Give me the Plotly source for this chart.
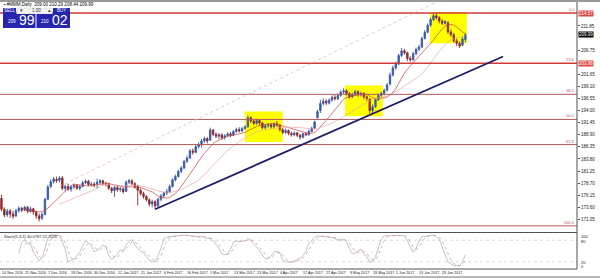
import plotly.graph_objects as go
import pandas as pd

symbol = "#MMM,Daily"

opens = [175.5,173.2,172.0,172.9,172.2,171.8,172.9,173.4,173.0,173.6,172.8,173.3,172.6,171.8,171.3,172.1,175.3,178.0,179.0,179.5,
         179.3,179.8,177.6,178.0,177.4,177.9,178.2,177.6,178.0,178.8,179.1,178.4,178.5,178.6,178.9,179.2,178.7,178.6,177.6,177.1,
         177.8,177.3,177.5,177.0,178.9,179.2,178.6,178.0,177.2,176.5,175.9,175.2,174.3,174.8,173.9,175.3,176.0,176.6,176.9,178.0,
         179.4,180.1,181.2,181.9,183.3,184.0,185.5,185.2,186.4,186.8,187.6,188.1,187.8,189.9,189.0,188.6,188.9,188.3,188.7,189.1,
         188.8,189.6,190.0,189.7,190.2,190.6,192.5,191.8,191.3,191.9,191.4,190.4,190.8,191.0,190.6,191.2,190.9,190.0,189.4,189.8,
         189.2,188.9,189.3,188.8,188.4,189.1,188.9,189.6,190.3,192.5,194.0,195.5,196.0,195.6,196.2,196.8,196.5,197.2,197.9,198.2,
         197.6,196.9,197.4,198.0,197.3,197.6,196.9,196.4,194.0,194.8,196.3,197.2,197.6,198.3,199.6,201.5,203.0,203.8,205.6,206.6,
         206.2,205.0,204.7,206.0,206.9,207.4,209.2,210.5,212.0,213.2,214.0,213.6,212.9,212.4,212.6,210.6,210.0,208.7,208.2,207.8,
         209.00]
highs = [176.2,173.6,173.3,173.2,172.8,173.3,173.8,173.7,173.9,173.9,173.8,173.5,172.9,172.3,172.5,175.6,178.3,179.5,180.0,180.1,
         180.2,180.2,178.4,178.6,178.2,178.6,178.5,178.3,179.2,179.5,179.4,178.9,178.9,179.6,179.5,179.4,179.0,178.8,177.9,178.1,
         178.2,177.9,177.8,179.3,179.6,179.5,178.9,178.4,177.6,176.9,176.2,175.5,175.2,175.1,175.6,176.4,176.9,177.5,178.4,179.7,
         180.5,181.5,182.3,183.6,184.5,185.9,186.0,186.8,187.3,188.0,188.5,188.4,190.4,190.1,189.4,189.3,189.2,189.0,189.4,189.5,
         189.9,190.4,190.5,190.6,190.9,193.0,192.8,192.2,192.3,192.1,191.6,191.2,191.4,191.3,191.5,191.8,191.1,190.3,190.2,190.0,
         189.5,189.6,189.5,189.0,189.3,189.5,190.0,190.6,191.9,194.2,196.3,196.6,196.4,196.6,197.2,197.3,197.6,198.3,198.7,198.5,
         197.9,197.8,198.4,198.3,198.0,197.9,197.2,196.6,195.3,196.6,197.6,198.0,198.6,199.8,202.0,203.5,204.3,206.0,207.2,207.0,
         206.4,205.5,206.4,207.3,207.9,209.6,211.0,212.4,213.6,214.5,214.57,213.9,213.3,213.1,212.8,211.1,210.4,209.2,208.6,209.5,
         210.29]
lows = [172.8,171.5,171.6,171.4,171.2,171.6,172.5,172.6,172.8,172.4,172.5,172.0,171.2,170.6,170.9,171.9,175.1,177.6,178.6,178.8,
        178.9,177.2,177.0,177.1,176.9,177.5,177.3,177.2,177.8,178.5,178.1,178.0,177.8,177.6,178.4,178.2,178.0,177.3,176.6,175.8,
        176.9,176.9,176.5,176.8,178.5,178.3,177.5,174.0,176.1,175.4,174.8,173.8,173.6,173.2,173.5,174.9,175.6,176.2,176.6,177.8,
        179.1,179.9,180.8,181.7,183.0,183.8,184.7,185.0,186.0,186.2,187.2,187.1,187.6,188.6,188.2,188.0,187.9,187.9,188.4,188.4,
        188.6,189.3,189.4,189.5,190.0,190.4,191.4,190.9,191.0,190.8,190.1,190.0,190.4,190.2,190.3,190.6,189.6,189.0,189.1,188.8,
        188.5,188.6,188.4,187.9,188.1,188.6,188.7,189.4,190.1,192.3,193.5,195.1,195.2,195.3,195.9,196.1,196.2,196.9,197.5,197.2,
        196.5,196.6,197.1,196.9,197.0,196.4,196.0,193.4,193.5,194.6,196.0,196.9,197.2,198.0,199.3,201.2,202.6,203.6,205.3,205.8,
        204.4,204.3,204.5,205.7,206.5,207.2,209.0,210.3,211.7,212.9,213.2,212.4,212.0,212.1,210.2,209.6,208.3,207.6,207.2,207.6,
        208.44]
closes = [173.2,172.0,172.8,172.2,171.7,172.9,173.4,173.0,173.6,172.8,173.3,172.6,171.8,171.2,172.1,175.3,177.9,179.0,179.6,179.2,
          179.8,177.6,178.0,177.4,177.9,178.2,177.6,178.0,178.8,179.1,178.4,178.5,178.3,178.9,179.2,178.7,178.6,177.6,177.1,177.8,
          177.3,177.5,176.9,178.9,179.2,178.6,177.9,177.2,176.5,175.9,175.2,174.3,174.8,173.9,175.3,176.0,176.6,176.9,178.0,179.4,
          180.1,181.2,181.9,183.3,184.0,185.5,185.2,186.4,186.8,187.6,188.1,187.6,189.9,189.0,188.6,188.9,188.3,188.7,189.1,188.8,
          189.6,190.0,189.7,190.2,190.6,192.5,191.8,191.3,191.9,191.4,190.4,190.8,191.0,190.6,191.2,190.9,190.0,189.4,189.8,189.2,
          188.9,189.3,188.8,188.4,189.1,188.9,189.6,190.3,191.6,193.8,195.5,196.0,195.6,196.2,196.8,196.5,197.2,197.9,198.2,197.6,
          196.9,197.4,198.0,197.3,197.6,196.9,196.6,194.0,194.8,196.3,197.2,197.6,198.3,199.4,201.5,203.0,203.8,205.6,206.6,206.2,
          205.0,204.7,206.0,206.9,207.4,209.2,210.5,212.0,213.2,214.0,213.6,212.9,212.4,212.8,210.6,210.0,208.7,208.2,207.6,209.1,
          209.99]

date_labels = ["14 Nov 2016", "25 Nov 2016", "7 Dec 2016", "19 Dec 2016", "30 Dec 2016", "12 Jan 2017",
               "25 Jan 2017", "6 Feb 2017", "16 Feb 2017", "1 Mar 2017", "13 Mar 2017", "23 Mar 2017",
               "4 Apr 2017", "17 Apr 2017", "27 Apr 2017", "9 May 2017", "19 May 2017", "1 Jun 2017",
               "13 Jun 2017", "23 Jun 2017"]
date_label_bar = [0, 8, 16, 24, 32, 40, 48, 56, 64, 72, 80, 88, 96, 104, 112, 120, 128, 136, 144, 152]

price_ticks = [171.05, 173.60, 176.15, 178.70, 181.25, 183.80, 186.35, 188.90, 191.45,
               194.00, 196.55, 199.10, 201.65, 206.75, 211.85, 216.95]

fib_levels = [0.0, 23.6, 38.2, 50.0, 61.8, 100.0]
fib_high = 214.57
fib_low = 169.70

trend_bars = [53, 173]
trend_prices = [173.2, 205.4]
thin_line_bars = [20, 150]
thin_line_prices = [178.0, 216.9]

box_bars = [[84, 97], [118.5, 131.5], [147.8, 160.5]]
box_prices = [[187.4, 193.8], [192.8, 199.3], [208.2, 214.8]]

stoch_levels = [20, 80]

# ---------------------------------------------------------------
W, H = 600, 278
def px(x):
    return x / W
def py(y):
    return 1 - y / H

n = len(closes)
bars = list(range(n))
df = pd.DataFrame({"o": opens, "h": highs, "l": lows, "c": closes})
ma_fast = df["c"].rolling(10).mean()
ma_slow = df["c"].rolling(21).mean()
ll = df["l"].rolling(5).min()
hh = df["h"].rolling(5).max()
k = (df["c"] - ll).rolling(3).sum() / (hh - ll).rolling(3).sum() * 100
d = k.rolling(3).mean()

XR = [-0.5, 198.5]
X_RIGHT = 577 / W
YMAIN = [168.4, 216.9]

fig = go.Figure()
fig.add_trace(go.Candlestick(
    x=bars, open=opens, high=highs, low=lows, close=closes,
    increasing=dict(line=dict(color="#3a5aa8", width=0.9), fillcolor="#3a5aa8"),
    decreasing=dict(line=dict(color="#8e2a2a", width=0.9), fillcolor="#8e2a2a"),
    whiskerwidth=0, xaxis="x", yaxis="y", showlegend=False, hoverinfo="skip"))
fig.add_trace(go.Scatter(x=bars, y=ma_fast, mode="lines", line=dict(color="#d43c3c", width=0.7),
                         xaxis="x", yaxis="y", showlegend=False, hoverinfo="skip"))
fig.add_trace(go.Scatter(x=bars, y=ma_slow, mode="lines", line=dict(color="#e8a8a8", width=0.7),
                         xaxis="x", yaxis="y", showlegend=False, hoverinfo="skip"))
fig.add_trace(go.Scatter(x=bars, y=k, mode="lines", line=dict(color="#b4b4b4", width=0.8),
                         xaxis="x2", yaxis="y2", showlegend=False, hoverinfo="skip"))
fig.add_trace(go.Scatter(x=bars, y=d, mode="lines", line=dict(color="#d49a9a", width=0.8, dash="dot"),
                         xaxis="x2", yaxis="y2", showlegend=False, hoverinfo="skip"))

shapes = []
for (b0, b1), (p0, p1) in zip(box_bars, box_prices):
    shapes.append(dict(type="rect", xref="x", yref="y", x0=b0, x1=b1, y0=p0, y1=p1,
                       fillcolor="#ffff00", line=dict(width=0), layer="below"))
fib_prices = [fib_high - (fib_high - fib_low) * lv / 100 for lv in fib_levels]
for lv, p in zip(fib_levels, fib_prices):
    strong = lv in (0.0, 23.6)
    shapes.append(dict(type="line", xref="paper", yref="y", x0=0, x1=X_RIGHT, y0=p, y1=p,
                       line=dict(color="#d23a3a" if strong else "#b45a5a", width=1.4 if strong else 1)))
shapes.append(dict(type="line", xref="x", yref="y", x0=thin_line_bars[0], x1=thin_line_bars[1],
                   y0=thin_line_prices[0], y1=thin_line_prices[1],
                   line=dict(color="#e6b4b4", width=0.8, dash="dot")))
shapes.append(dict(type="line", xref="x", yref="y", x0=trend_bars[0], x1=trend_bars[1],
                   y0=trend_prices[0], y1=trend_prices[1], line=dict(color="#1c1c6a", width=1.8)))
for lv in stoch_levels:
    shapes.append(dict(type="line", xref="paper", yref="y2", x0=0, x1=X_RIGHT, y0=lv, y1=lv,
                       line=dict(color="#c0c0c0", width=0.6, dash="dot")))
shapes += [
    dict(type="rect", xref="paper", yref="paper", x0=0, x1=1, y0=py(2), y1=1,
         fillcolor="#9a9a9a", line=dict(width=0)),
    dict(type="line", xref="paper", yref="paper", x0=X_RIGHT, x1=X_RIGHT, y0=py(269), y1=py(2),
         line=dict(color="#505050", width=1)),
    dict(type="line", xref="paper", yref="paper", x0=0, x1=X_RIGHT, y0=py(232.5), y1=py(232.5),
         line=dict(color="#505050", width=1)),
    dict(type="line", xref="paper", yref="paper", x0=0, x1=X_RIGHT, y0=py(269), y1=py(269),
         line=dict(color="#505050", width=1)),
    dict(type="line", xref="paper", yref="paper", x0=0, x1=1, y0=py(277), y1=py(277),
         line=dict(color="#a0a0a0", width=1.5)),
]
panel_blue = "#2626b0"
shapes += [
    dict(type="rect", xref="paper", yref="paper", x0=px(3), x1=px(16), y0=py(14), y1=py(8),
         fillcolor=panel_blue, line=dict(width=0)),
    dict(type="rect", xref="paper", yref="paper", x0=px(17), x1=px(52), y0=py(14), y1=py(8),
         fillcolor="#f4f4f4", line=dict(color="#c8c8c8", width=0.5)),
    dict(type="rect", xref="paper", yref="paper", x0=px(53), x1=px(70), y0=py(14), y1=py(8),
         fillcolor=panel_blue, line=dict(width=0)),
    dict(type="rect", xref="paper", yref="paper", x0=px(3), x1=px(35.5), y0=py(28), y1=py(14),
         fillcolor=panel_blue, line=dict(width=0)),
    dict(type="rect", xref="paper", yref="paper", x0=px(36.5), x1=px(70), y0=py(28), y1=py(14),
         fillcolor=panel_blue, line=dict(width=0)),
]

ann = []
fnt = "Liberation Sans"
def A(x, y, text, size=5, color="#000", xanchor="left", yanchor="middle", xref="paper", yref="paper", bg=None):
    a = dict(x=x, y=y, xref=xref, yref=yref, text=text, showarrow=False, xanchor=xanchor,
             yanchor=yanchor, font=dict(family=fnt, size=size, color=color), borderpad=0)
    if bg:
        a["bgcolor"] = bg
    ann.append(a)

last = n - 1
A(px(3), py(4.5), "▪ %s  %.2f %.2f %.2f %.2f" % (symbol, opens[last], highs[last], lows[last], closes[last]), size=4.5)
A(px(9.5), py(11), "SELL", size=4.5, color="#fff", xanchor="center")
A(px(61.5), py(11), "BUY", size=4.5, color="#fff", xanchor="center")
A(px(21), py(11), "▾", size=4.5, color="#333", xanchor="center")
A(px(36), py(11), "1.00", size=4.5, color="#333", xanchor="center")
A(px(49), py(11), "▴", size=4.5, color="#333", xanchor="center")
bid = closes[last]
ask = bid + 0.03
A(px(17), py(22), "%d" % int(bid), size=4.5, color="#fff", xanchor="right")
A(px(18), py(20.5), "%02d" % round((bid - int(bid)) * 100), size=14, color="#fff")
A(px(50), py(22), "%d" % int(ask), size=4.5, color="#fff", xanchor="right")
A(px(51), py(20.5), "%02d" % round((ask - int(ask)) * 100), size=14, color="#fff")

for lv, p in zip(fib_levels, fib_prices):
    A(px(576), p, "%.1f" % lv, size=4, color="#b45a5a", xanchor="right", yanchor="bottom", yref="y")
for p in fib_prices[:2]:
    A(px(578), p, "%.2f" % p, size=4.5, color="#fff", yref="y", bg="#e04848")
A(px(578), closes[last], "%.2f" % closes[last], size=4.5, color="#fff", yref="y", bg="#000")

for b, t in zip(date_label_bar, date_labels):
    A(b - 0.3, py(272.5), t, size=3.7, color="#202020", xref="x")

A(px(3), py(236.5), "Stoch(5,3,3) %.4f %.4f" % (k.iloc[-1], d.iloc[-1]), size=4, color="#202020")
for v, yy in zip([100, 80, 20, 0], [236, 241, 262, 266.5]):
    A(px(580), py(yy), str(v), size=4, color="#202020")

fig.update_layout(
    width=W, height=H, margin=dict(l=0, r=0, t=0, b=0),
    paper_bgcolor="#ffffff", plot_bgcolor="#ffffff",
    font=dict(family=fnt, size=5, color="#202020"),
    showlegend=False, shapes=shapes, annotations=ann,
    xaxis=dict(domain=[0, X_RIGHT], range=XR, showgrid=False, zeroline=False, showticklabels=False,
               rangeslider=dict(visible=False), anchor="y", fixedrange=True),
    xaxis2=dict(domain=[0, X_RIGHT], range=XR, matches="x", showgrid=False, zeroline=False,
                showticklabels=False, anchor="y2"),
    yaxis=dict(domain=[py(232), py(2)], range=YMAIN, side="right", showgrid=False, zeroline=False,
               tickvals=price_ticks, ticktext=["%.2f" % v for v in price_ticks],
               ticks="outside", ticklen=2, tickcolor="#505050", tickfont=dict(size=4.5, color="#202020"),
               anchor="x"),
    yaxis2=dict(domain=[py(269), py(233)], range=[0, 100], side="right", showgrid=False, zeroline=False,
                showticklabels=False, anchor="x2"),
)
fig.write_html("out.html")
